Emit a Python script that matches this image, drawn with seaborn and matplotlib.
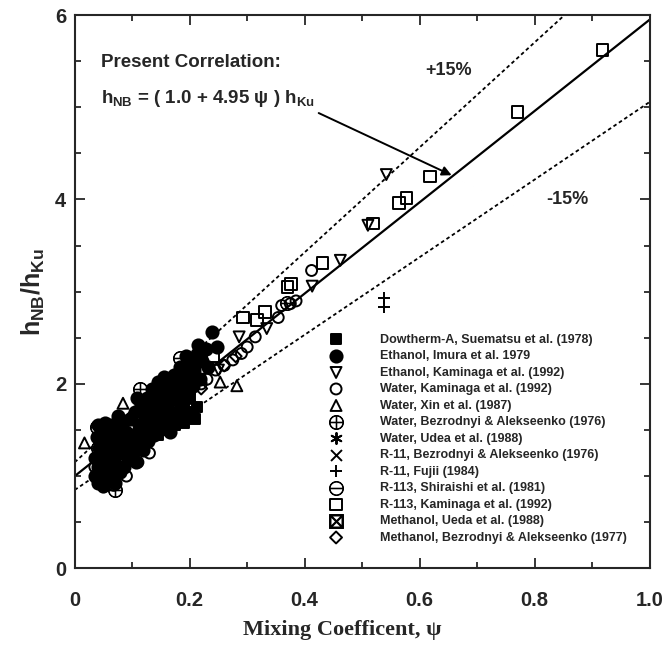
import numpy as np
import matplotlib
matplotlib.use("Agg")
import matplotlib.pyplot as plt
import seaborn as sns
from matplotlib.ticker import MultipleLocator, FixedLocator, FixedFormatter

# -----------------------------
# Data
# -----------------------------
# Dowtherm-A, Suematsu et al. (1978) - filled squares
dowtherm_x = [0.100, 0.110, 0.120, 0.135, 0.145, 0.155, 0.160, 0.170, 0.175, 0.180,
              0.185, 0.190, 0.195, 0.200, 0.205, 0.210, 0.213, 0.200, 0.190]
dowtherm_y = [1.32, 1.40, 1.38, 1.50, 1.45, 1.55, 1.50, 1.60, 1.55, 1.68,
              1.62, 1.78, 1.70, 1.85, 1.68, 1.62, 1.75, 1.95, 1.58]

# Ethanol, Imura et al. 1979 - filled circles
imura_x = [0.035, 0.036, 0.038, 0.040, 0.041, 0.043, 0.045, 0.046, 0.048, 0.050,
           0.051, 0.053, 0.055, 0.056, 0.058, 0.060, 0.061, 0.063, 0.065, 0.066,
           0.068, 0.070, 0.072, 0.073, 0.075, 0.078, 0.080, 0.082, 0.084, 0.086,
           0.088, 0.090, 0.092, 0.095, 0.097, 0.100, 0.102, 0.105, 0.107, 0.110,
           0.112, 0.115, 0.118, 0.120, 0.123, 0.125, 0.128, 0.130, 0.133, 0.135,
           0.138, 0.140, 0.143, 0.145, 0.148, 0.150, 0.153, 0.155, 0.158, 0.160,
           0.163, 0.165, 0.168, 0.170, 0.173, 0.175, 0.178, 0.180, 0.183, 0.185,
           0.188, 0.190, 0.193, 0.195, 0.198, 0.200, 0.205, 0.208, 0.212, 0.214,
           0.218, 0.222, 0.228, 0.232, 0.239, 0.247, 0.040, 0.052, 0.075, 0.108]
imura_y = [1.00, 1.20, 1.42, 0.92, 1.10, 1.30, 1.52, 0.98, 1.18, 1.38,
           0.90, 1.08, 1.25, 1.48, 0.95, 1.15, 1.35, 1.55, 1.02, 1.22,
           1.42, 0.93, 1.12, 1.30, 1.50, 1.05, 1.25, 1.40, 1.60, 1.10,
           1.32, 1.48, 1.18, 1.38, 1.62, 1.25, 1.45, 1.70, 1.15, 1.35,
           1.55, 1.78, 1.28, 1.48, 1.65, 1.85, 1.38, 1.58, 1.75, 1.95,
           1.45, 1.65, 1.85, 2.02, 1.52, 1.72, 1.92, 2.08, 1.60, 1.80,
           1.98, 1.48, 1.70, 1.90, 2.10, 1.62, 1.82, 2.00, 2.18, 1.75,
           1.95, 2.12, 2.30, 1.85, 2.05, 2.22, 1.98, 2.15, 2.32, 2.42,
           2.05, 2.25, 2.38, 2.18, 2.56, 2.40, 1.55, 1.58, 1.65, 1.85]

# Ethanol, Kaminaga et al. (1992) - open down triangles
eth_kam_x = [0.542, 0.510, 0.462, 0.413, 0.334, 0.286, 0.160, 0.120, 0.200, 0.250]
eth_kam_y = [4.27, 3.72, 3.34, 3.06, 2.60, 2.51, 1.60, 1.50, 1.75, 2.15]

# Water, Kaminaga et al. (1992) - open circles
wat_kam_x = [0.412, 0.375, 0.360, 0.385, 0.354, 0.314, 0.300, 0.290, 0.275, 0.260,
             0.245, 0.230, 0.220, 0.050, 0.068, 0.090, 0.060, 0.110, 0.130, 0.035]
wat_kam_y = [3.23, 2.87, 2.85, 2.90, 2.72, 2.51, 2.40, 2.33, 2.26, 2.20,
             2.15, 2.05, 2.00, 0.88, 0.90, 1.00, 1.05, 1.15, 1.25, 1.10]

# Water, Xin et al. (1987) - open up triangles
xin_x = [0.017, 0.084, 0.253, 0.282, 0.190, 0.120]
xin_y = [1.36, 1.79, 2.02, 1.98, 1.95, 1.60]

# Water, Bezrodnyi & Alekseenko (1976) - circled plus
wat_bez_x = [0.113, 0.038, 0.070, 0.045, 0.060, 0.100, 0.150]
wat_bez_y = [1.94, 1.53, 0.85, 1.45, 1.20, 1.30, 1.70]

# Water, Udea et al. (1988) - asterisks
udea_x = [0.080, 0.120, 0.060, 0.150]
udea_y = [1.30, 1.50, 1.15, 1.60]

# R-11, Bezrodnyi & Alekseenko (1976) - crosses
r11_bez_x = [0.050, 0.090, 0.130]
r11_bez_y = [1.10, 1.35, 1.50]

# R-11, Fujii (1984) - plus signs
fujii_x = [0.538, 0.538, 0.100, 0.140]
fujii_y = [2.93, 2.83, 1.20, 1.45]

# R-113, Shiraishi et al. (1981) - circled minus
shir_x = [0.183, 0.370, 0.040, 0.065]
shir_y = [2.28, 2.88, 1.30, 0.92]

# R-113, Kaminaga et al. (1992) - open squares
r113_kam_x = [0.918, 0.770, 0.618, 0.564, 0.577, 0.519, 0.431, 0.376, 0.370, 0.331,
              0.317, 0.293, 0.240]
r113_kam_y = [5.62, 4.95, 4.25, 3.96, 4.02, 3.74, 3.31, 3.08, 3.05, 2.78,
              2.69, 2.72, 2.30]

# Methanol, Ueda et al. (1988) - boxed crosses
meth_ueda_x = [0.090, 0.140]
meth_ueda_y = [1.30, 1.60]

# Methanol, Bezrodnyi & Alekseenko (1977) - open diamonds
meth_bez_x = [0.050, 0.100, 0.220, 0.280, 0.260]
meth_bez_y = [1.00, 1.25, 1.95, 2.30, 2.20]

# correlation h_NB/h_Ku = 1.0 + 4.95 psi, +/-15 % band
CORR_A = 1.0
CORR_B = 4.95
BAND = 0.15

x_ticks = [0, 0.2, 0.4, 0.6, 0.8, 1.0]
x_ticklabels = ["0", "0.2", "0.4", "0.6", "0.8", "1.0"]
y_ticks = [0, 2, 4, 6]
y_ticklabels = ["0", "2", "4", "6"]

# -----------------------------
# Style
# -----------------------------
sns.set_style("ticks")
plt.rcParams["font.family"] = ["Liberation Sans", "DejaVu Sans"]
plt.rcParams["font.weight"] = "bold"
plt.rcParams["mathtext.fontset"] = "custom"
plt.rcParams["mathtext.rm"] = "Liberation Sans:bold"
plt.rcParams["mathtext.it"] = "Liberation Sans:bold"
plt.rcParams["mathtext.bf"] = "Liberation Sans:bold"

fig = plt.figure(figsize=(6.67, 6.54), dpi=100)
ax = fig.add_axes([0.112, 0.131, 0.862, 0.846])

# lines
psi = np.linspace(0, 1, 200)
corr = CORR_A + CORR_B * psi
ax.plot(psi, corr, color="black", lw=1.6, zorder=1)
ax.plot(psi, corr * (1 + BAND), color="black", lw=1.3, ls=(0, (2.0, 1.6)), zorder=1)
ax.plot(psi, corr * (1 - BAND), color="black", lw=1.3, ls=(0, (2.0, 1.6)), zorder=1)

MS = 62
series = [
    ("Dowtherm-A, Suematsu et al. (1978)", dowtherm_x, dowtherm_y, "s", "black", MS),
    ("Ethanol, Imura et al. 1979", imura_x, imura_y, "o", "black", MS + 15),
    ("Ethanol, Kaminaga et al. (1992)", eth_kam_x, eth_kam_y, "v", "none", MS),
    ("Water, Kaminaga et al. (1992)", wat_kam_x, wat_kam_y, "o", "none", MS),
    ("Water, Xin et al. (1987)", xin_x, xin_y, "^", "none", MS),
    ("Water, Bezrodnyi & Alekseenko (1976)", wat_bez_x, wat_bez_y, r"$\oplus$", "black", MS + 40),
    ("Water, Udea et al. (1988)", udea_x, udea_y, (6, 2, 0), "black", MS),
    ("R-11, Bezrodnyi & Alekseenko (1976)", r11_bez_x, r11_bez_y, "x", "black", MS),
    ("R-11, Fujii (1984)", fujii_x, fujii_y, "+", "black", MS + 20),
    ("R-113, Shiraishi et al. (1981)", shir_x, shir_y, r"$\ominus$", "black", MS + 40),
    ("R-113, Kaminaga et al. (1992)", r113_kam_x, r113_kam_y, "s", "none", MS + 10),
    ("Methanol, Ueda et al. (1988)", meth_ueda_x, meth_ueda_y, r"$\boxtimes$", "black", MS + 40),
    ("Methanol, Bezrodnyi & Alekseenko (1977)", meth_bez_x, meth_bez_y, "D", "none", MS - 25),
]

for label, xs, ys, marker, face, size in series:
    filled = marker in ("s", "o", "v", "^", "D")
    if filled or marker in ("x", "+", (6, 2, 0)):
        lw = 1.4
    else:
        lw = 0.7  # thicken the glyph markers
    sns.scatterplot(
        x=xs, y=ys, ax=ax, marker=marker, s=size, label=label,
        color="black",
        facecolor=face if filled else "black",
        edgecolor="black",
        linewidth=lw,
        zorder=3, legend=False,
    )

ax.set_xlim(0, 1.0)
ax.set_ylim(0, 6)
ax.xaxis.set_major_locator(FixedLocator(x_ticks))
ax.xaxis.set_major_formatter(FixedFormatter(x_ticklabels))
ax.yaxis.set_major_locator(FixedLocator(y_ticks))
ax.yaxis.set_major_formatter(FixedFormatter(y_ticklabels))
ax.xaxis.set_minor_locator(MultipleLocator(0.1))
ax.yaxis.set_minor_locator(MultipleLocator(0.5))
ax.tick_params(which="both", direction="in", top=True, right=True, width=1.3)
ax.tick_params(which="major", length=7, labelsize=14.5, pad=16)
ax.tick_params(axis="y", which="major", pad=6)
ax.tick_params(which="minor", length=4)
for sp in ax.spines.values():
    sp.set_linewidth(1.5)
for t in ax.get_xticklabels() + ax.get_yticklabels():
    t.set_fontweight("bold")

ax.set_ylabel(r"$h_{NB}/h_{Ku}$", fontsize=18, labelpad=6)
ax.set_xlabel("Mixing Coefficent, ψ", fontsize=16, fontweight="bold",
              family=["Liberation Serif", "DejaVu Serif"])
ax.xaxis.set_label_coords(0.465, -0.093)

# annotations
ax.text(0.045, 5.44, "Present Correlation:", fontsize=13.5, fontweight="bold")
ax.text(0.045, 5.05, r"$h_{NB}$ = ( 1.0 + 4.95 ψ ) $h_{Ku}$", fontsize=13.5, fontweight="bold")
ax.annotate("", xy=(0.66, 4.25), xytext=(0.42, 4.95),
            arrowprops=dict(arrowstyle="-|>", color="black", lw=1.4, mutation_scale=14))
ax.text(0.61, 5.35, "+15%", fontsize=13, fontweight="bold")
ax.text(0.82, 3.95, "-15%", fontsize=13, fontweight="bold")

ax.legend(loc="upper left", bbox_to_anchor=(0.435, 0.433), frameon=False,
          handlelength=1.0, handletextpad=3.0, labelspacing=0.36,
          borderaxespad=0, prop={"weight": "bold", "size": 9})

fig.savefig("out.png", dpi=100)
